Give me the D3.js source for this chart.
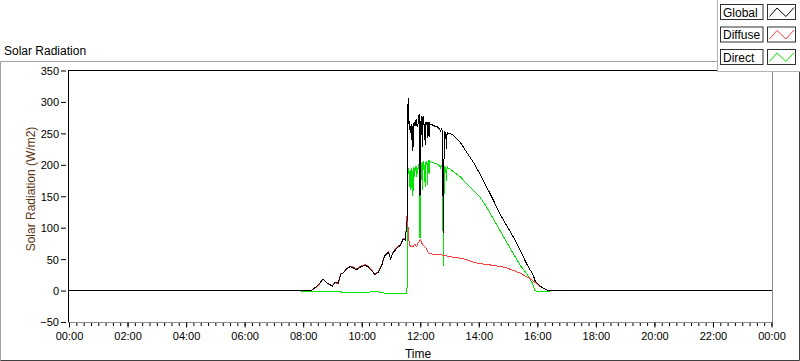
<!DOCTYPE html>
<html>
<head>
<meta charset="utf-8">
<script src="https://cdn.jsdelivr.net/npm/d3@7"></script>
<style>
  html, body { margin: 0; padding: 0; background: #fff; }
  svg { display: block; font-family: "Liberation Sans", Arial, sans-serif; }
</style>
</head>
<body>
<svg id="chart" width="800" height="361"></svg>
<script>
// ---------------- DATA ----------------
const times = [
  "00:00","07:50","07:57","08:15","08:18","08:27","08:34","08:41","08:47","08:55",
  "09:00","09:05","09:12","09:17","09:22","09:29","09:36","09:43","09:49","09:56",
  "10:03","10:07","10:13","10:20","10:27","10:34","10:41","10:47","10:55","10:59",
  "11:05","11:11","11:19","11:22","11:25","11:29","11:31","11:32","11:33","11:34",
  "11:35","11:36","11:37","11:38","11:39","11:40","11:41","11:42","11:43","11:44",
  "11:45","11:46","11:47","11:48","11:49","11:50","11:51","11:52","11:53","11:54",
  "11:55","11:56","11:57","11:58","11:59","12:00","12:01","12:02","12:03","12:04",
  "12:05","12:06","12:07","12:08","12:09","12:10","12:11","12:12","12:13","12:14",
  "12:15","12:16","12:17","12:18","12:19","12:20","12:24","12:28","12:32","12:36",
  "12:40","12:42","12:43","12:45","12:46","12:47","12:48","12:49","12:50","12:52",
  "12:54","12:55","12:57","13:00","13:08","13:22","13:35","13:49","14:02","14:16",
  "14:30","14:43","14:57","15:11","15:25","15:38","15:49","15:52","15:55","16:00",
  "16:06","16:14","16:20","16:24","16:26","24:00"
];
const globalVals = [
  0,0,0,0,1,6,12,18.5,13,9.5,
  7,13,12,26,28,34.5,38,36,33,37,
  39,40,38,32,25.5,29,40,55,61,50.5,
  61,66.5,72,77,82,80,95,105,112,170,
  306,265,270,260,255,262,250,265,240,262,
  222,262,266,262,268,262,270,271,262,265,
  260,272,278,279,150,155,260,276,278,229,
  275,276,268,262,265,232,266,268,265,266,
  243,266,268,245,266,265,264,262,261,260,
  256,252,258,255,252,95,92,250,252,251,
  225,252,250,250,247,236,220,204,186,165,
  143.5,122,103.7,85,64,42.5,28,24,16,11,
  7,3,0.5,0,0,0
];
const diffuseVals = [
  0,0,0,0,1,5,11,18,13,9,
  8,13,11,27,28,35,39,37,34,38,
  40,41,39,33,26,30,41,56,62,51,
  62,68,73,78,83,82,96,106,120,115,
  100,85,78,72,72,70,70,70,69,70,
  70,70,72,73,74,74,72,70,70,72,
  75,76,77,78,80,81,80,78,76,74,
  73,72,72,71,70,69,68,67,66,64,
  62,61,60,60,59,59,58,58,58,58,
  57,57,57,56,56,55,55,55,55,55,
  55,55,54,54,53,51.5,49,45,43,41.5,
  40,38.5,36,32,27.6,22,17,15,13,10,
  6,3,0.5,0,0,0
];
const directVals = [
  0,0,-1,-2,-2,-2,-2,-2,-2,-2,
  -2,-2,-2,-2,-3,-3,-3,-3,-3,-3,
  -3,-3,-3,-2,-2,-2,-3,-4,-5,-5,
  -5,-5,-5,-5,-5,-5,-4,-4,5,190,
  195,190,185,165,190,192,160,195,175,190,
  150,196,196,180,195,190,197,197,180,195,
  190,197,200,200,85,85,195,200,203,160,
  203,204,198,190,200,165,204,205,203,200,
  168,205,206,185,206,205,204,203,202,201,
  198,195,199,198,196,40,40,195,197,196,
  175,197,195,194,189,181,170,159.5,149,133,
  114,96,77,58.5,40,27,13,7,0,-2,
  -2,-2,-2,-2,0,0
];
const yTicks = [-50, 0, 50, 100, 150, 200, 250, 300, 350];
const seriesNames = ["Global", "Diffuse", "Direct"];
const seriesColors = ["#000000", "#ff3c3c", "#00e600"];

// ---------------- SETUP ----------------
const svg = d3.select("#chart");
const base = new Date(2000, 0, 1, 0, 0);
const parseT = s => { const [h, m] = s.split(":").map(Number); return new Date(2000, 0, 1, h, m); };
const endT = new Date(2000, 0, 2, 0, 0);

const plot = { left: 69, right: 771.5, top: 70.5, bottom: 322 };

const x = d3.scaleTime().domain([base, endT]).range([plot.left, plot.right]);
const y = d3.scaleLinear().domain([-50, 350]).range([plot.bottom, plot.top]);

// outer panel
svg.append("line").attr("x1", 0.5).attr("x2", 799.5).attr("y1", 61.5).attr("y2", 61.5).attr("stroke", "#a0a0a0");
svg.append("line").attr("x1", 0.5).attr("x2", 0.5).attr("y1", 61.5).attr("y2", 360.5).attr("stroke", "#a0a0a0");
svg.append("line").attr("x1", 0.5).attr("x2", 799.5).attr("y1", 360.5).attr("y2", 360.5).attr("stroke", "#404040");
svg.append("line").attr("x1", 799.5).attr("x2", 799.5).attr("y1", 61.5).attr("y2", 360.5).attr("stroke", "#404040");

svg.append("text").attr("x", 4).attr("y", 55).attr("font-size", 12).attr("fill", "#000").text("Solar Radiation");

// plot background
svg.append("rect").attr("x", plot.left).attr("y", plot.top).attr("width", plot.right - plot.left).attr("height", plot.bottom - plot.top).attr("fill", "#fff");

// data
const data = times.map((t, i) => ({ t: parseT(t), g: globalVals[i], f: diffuseVals[i], d: directVals[i] }));

svg.append("clipPath").attr("id", "clip").append("rect")
  .attr("x", plot.left).attr("y", plot.top).attr("width", plot.right - plot.left + 1).attr("height", plot.bottom - plot.top);

const gLines = svg.append("g").attr("clip-path", "url(#clip)");
const keys = ["g", "f", "d"];
// draw Direct, Diffuse, then Global on top
[2, 1, 0].forEach(i => {
  const k = keys[i];
  gLines.append("path")
    .attr("fill", "none")
    .attr("stroke", seriesColors[i])
    .attr("stroke-width", 1)
    .attr("shape-rendering", "crispEdges")
    .attr("d", d3.line().x(d => x(d.t)).y(d => y(d[k]))(data));
});

// frame
svg.append("line").attr("x1", plot.left - 0.5).attr("x2", plot.left - 0.5).attr("y1", 70).attr("y2", 322.5).attr("stroke", "#000");
svg.append("line").attr("x1", plot.left - 1).attr("x2", 772.5).attr("y1", 70.5).attr("y2", 70.5).attr("stroke", "#000");
svg.append("line").attr("x1", 772.5).attr("x2", 772.5).attr("y1", 70.5).attr("y2", 322.5).attr("stroke", "#8c8c8c");
svg.append("line").attr("x1", plot.left).attr("x2", 772.5).attr("y1", 322.5).attr("y2", 322.5).attr("stroke", "#8c8c8c");

// y axis
const yAxis = svg.append("g").attr("transform", "translate(66,0)")
  .call(d3.axisLeft(y).tickValues(yTicks).tickSize(5).tickPadding(2));
yAxis.select(".domain").remove();
yAxis.selectAll("text").attr("font-size", 11).attr("font-family", "Liberation Sans, Arial, sans-serif").attr("fill", "#000").attr("dy", "0.36em");
yAxis.selectAll("line").attr("stroke", "#000");

// x axis minor ticks
const xMinor = svg.append("g").attr("transform", "translate(0,323)")
  .call(d3.axisBottom(x).ticks(d3.timeMinute.every(15)).tickSize(3).tickFormat(""));
xMinor.select(".domain").remove();
xMinor.selectAll("line").attr("stroke", "#000");

// x axis major ticks
const xAxis = svg.append("g").attr("transform", "translate(0,322.5)")
  .call(d3.axisBottom(x).ticks(d3.timeHour.every(2)).tickSize(5).tickPadding(5).tickFormat(d3.timeFormat("%H:%M")));
xAxis.select(".domain").remove();
xAxis.selectAll("line").attr("stroke", "#000");
xAxis.selectAll("text").attr("font-size", 11).attr("font-family", "Liberation Sans, Arial, sans-serif").attr("fill", "#000");

// axis titles
svg.append("text").attr("x", 418).attr("y", 358).attr("text-anchor", "middle").attr("font-size", 12).attr("fill", "#000").text("Time");
svg.append("text").attr("transform", "translate(35,189) rotate(-90)").attr("text-anchor", "middle")
  .attr("font-size", 12).attr("fill", "#5b3412").text("Solar Radiation (W/m2)");

// legend
const leg = svg.append("g");
leg.append("rect").attr("x", 717.5).attr("y", -1).attr("width", 84).attr("height", 72.5).attr("fill", "#fff").attr("stroke", "#b4b4b4");
seriesNames.forEach((name, i) => {
  const y0 = 4.5 + i * 22.5;
  leg.append("rect").attr("x", 720.5).attr("y", y0).attr("width", 42.5).attr("height", 15).attr("fill", "#fff").attr("stroke", "#303030");
  leg.append("text").attr("x", 723).attr("y", y0 + 12).attr("font-size", 12).attr("fill", "#000").text(name);
  leg.append("rect").attr("x", 767.5).attr("y", y0).attr("width", 28).attr("height", 15).attr("fill", "#fff").attr("stroke", "#303030");
  leg.append("path")
    .attr("d", d3.line()([[769.5, y0 + 12], [777, y0 + 3.5], [786, y0 + 12], [794, y0 + 3]]))
    .attr("fill", "none").attr("stroke", seriesColors[i]).attr("stroke-width", 1);
});
</script>
</body>
</html>
